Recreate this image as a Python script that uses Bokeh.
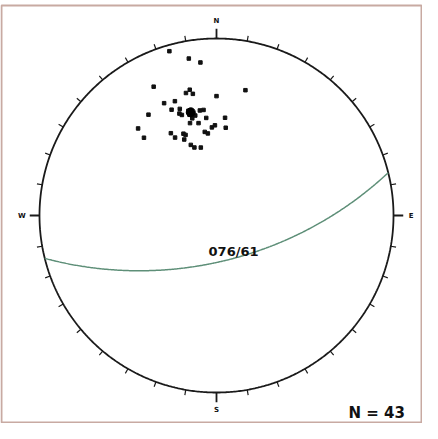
import numpy as np
from bokeh.plotting import figure
from bokeh.models import Range1d, ColumnDataSource
from bokeh.core.properties import value
from bokeh.embed import file_html
from bokeh.resources import INLINE

# ---- data: poles to planes (trend, plunge in degrees), lower-hemisphere equal-angle net ----
pole_trend = [344, 350, 354, 334, 346, 348, 349, 0, 13, 335,
              340, 337, 341, 341, 351, 353, 326, 354, 5, 344,
              349, 357, 359, 6, 318, 331, 338, 352, 354, 317,
              332, 337, 339, 340, 342, 347, 340, 348, 345, 346,
              346, 347, 345]
pole_plunge = [2, 6, 8, 12, 19, 18, 20, 22, 18, 20,
               21, 24, 25, 28, 28, 28, 21, 32, 32, 33,
               34, 37, 36, 37, 23, 34, 37, 39, 40, 28,
               37, 40, 38, 44, 46, 47, 27, 30, 27, 31,
               28, 29, 29]
mean_trend = [346]
mean_plunge = [28]
plane_strike = 76
plane_dip = 61
plane_label = ["076/61"]
count_label = ["N = 43"]
cardinal_labels = ["N", "E", "S", "W"]
cardinal_azimuths = [0, 90, 180, 270]
tick_azimuths = list(range(0, 360, 10))


def wulff(trend, plunge):
    t = np.radians(np.asarray(trend, dtype=float))
    pl = np.radians(np.asarray(plunge, dtype=float))
    r = np.tan(np.pi / 4 - pl / 2)
    return r * np.sin(t), r * np.cos(t)


W, H = 422, 423
p = figure(width=W, height=H,
           x_range=Range1d(-1.2203, 1.1638), y_range=Range1d(-1.1751, 1.2147),
           x_axis_type=None, y_axis_type=None,
           output_backend="svg", toolbar_location=None, min_border=0,
           background_fill_color="white", border_fill_color="white")
p.outline_line_color = None
p.grid.visible = False

# outer frame
p.quad(left=-1.2147, right=1.1582, top=1.1864, bottom=-1.1695,
       fill_color=None, line_color="#c8aaa2", line_width=2)

# primitive circle
th = np.radians(np.linspace(0, 360, 721))
p.line(np.sin(th), np.cos(th), line_color="#1a1a1a", line_width=1.8)

# ticks every 10 degrees, longer at cardinal points
az = np.radians(np.array(tick_azimuths, dtype=float))
is_card = np.isin(tick_azimuths, cardinal_azimuths)
tick_len = np.where(is_card, 0.055, 0.03)
p.segment(x0=np.sin(az), y0=np.cos(az),
          x1=np.sin(az) * (1 + tick_len), y1=np.cos(az) * (1 + tick_len),
          line_color="#1a1a1a", line_width=np.where(is_card, 1.8, 1.2).tolist())

# cardinal labels
ca = np.radians(np.array(cardinal_azimuths, dtype=float))
p.text(x=np.sin(ca) * 1.1, y=np.cos(ca) * 1.1, text=cardinal_labels,
       text_font=value("DejaVu Sans"), text_font_style="bold",
       text_font_size="7px", text_align="center", text_baseline="middle",
       text_color="#111111")

# great circle of plane 076/61 (right-hand rule)
s = np.radians(plane_strike)
dd = np.radians(plane_strike + 90)
dip = np.radians(plane_dip)
svec = np.array([np.sin(s), np.cos(s), 0.0])
dvec = np.array([np.sin(dd) * np.cos(dip), np.cos(dd) * np.cos(dip), np.sin(dip)])
ang = np.radians(np.linspace(0, 180, 361))
v = np.outer(np.cos(ang), svec) + np.outer(np.sin(ang), dvec)
gc_trend = np.degrees(np.arctan2(v[:, 0], v[:, 1]))
gc_plunge = np.degrees(np.arcsin(np.clip(v[:, 2], -1, 1)))
gx, gy = wulff(gc_trend, gc_plunge)
p.line(gx, gy, line_color="#5e8f78", line_width=1.5)

# poles
px_, py_ = wulff(pole_trend, pole_plunge)
p.scatter(px_, py_, marker="square", size=3.5, fill_color="#111111",
          line_color="#111111")
mx, my = wulff(mean_trend, mean_plunge)
p.scatter(mx, my, marker="circle", size=9, fill_color="#000000",
          line_color="#000000")

# plane label
p.text(x=[-0.045], y=[-0.203], text=plane_label,
       text_font=value("DejaVu Sans"), text_font_style="bold",
       text_font_size="13px", text_align="left", text_baseline="alphabetic",
       text_color="#111111")

# count label
p.text(x=[0.746], y=[-1.113], text=count_label,
       text_font=value("DejaVu Sans"), text_font_style="bold",
       text_font_size="15px", text_align="left", text_baseline="alphabetic",
       text_color="#111111")

open("out.html", "w").write(file_html(p, INLINE))
